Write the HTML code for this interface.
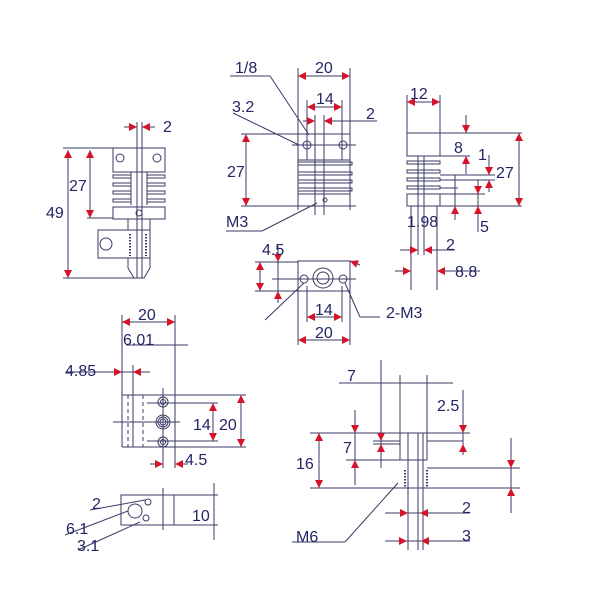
<!DOCTYPE html>
<html><head><meta charset="utf-8"><style>
html,body{margin:0;padding:0;background:#fff}
svg{display:block}
text{font-family:"Liberation Sans",sans-serif;font-size:16px;fill:#232566}
</style></head><body>
<svg width="600" height="600" viewBox="0 0 600 600" xmlns="http://www.w3.org/2000/svg">
<defs>
<marker id="a" viewBox="0 0 10 10" refX="10" refY="5" markerWidth="9" markerHeight="8" orient="auto-start-reverse"><path d="M0,0 L10,5 L0,10 z" fill="#d4142a"/></marker>
</defs>
<g stroke="#3a3a66" stroke-width="1" fill="none">
<!-- Section 1 -->
<line x1="63" y1="148" x2="165" y2="148"/>
<line x1="63" y1="278" x2="142" y2="278"/>
<line x1="87" y1="218" x2="113" y2="218"/>
<line x1="137" y1="122" x2="137" y2="278"/>
<line x1="142" y1="122" x2="142" y2="278"/>
<rect x="113" y="148" width="52" height="24"/>
<circle cx="120" cy="158" r="4"/><circle cx="157" cy="158" r="4"/>
<rect x="113" y="175" width="18" height="3"/><rect x="147" y="175" width="18" height="3"/>
<rect x="113" y="183" width="18" height="3"/><rect x="147" y="183" width="18" height="3"/>
<rect x="113" y="191" width="18" height="3"/><rect x="147" y="191" width="18" height="3"/>
<rect x="113" y="199" width="18" height="3"/><rect x="147" y="199" width="18" height="3"/>
<path d="M131,172 L131,205 M147,172 L147,205"/>
<rect x="113" y="207" width="52" height="12"/>
<circle cx="139" cy="213" r="3"/>
<rect x="98" y="230" width="52" height="28"/>
<circle cx="106" cy="244" r="6"/>
<path d="M130,234 L130,256 M146,234 L146,256" stroke-dasharray="1.5,1.5" stroke-width="2"/>
<path d="M128,258 L128,268 L134,278 L144,278 L150,268 L150,258"/>
<path d="M128,219 L128,230 M150,219 L150,230"/>
<!-- Section 2 front -->
<line x1="298" y1="68" x2="298" y2="210"/>
<line x1="350" y1="68" x2="350" y2="210"/>
<line x1="307" y1="100" x2="307" y2="160"/>
<line x1="342" y1="100" x2="342" y2="160"/>
<line x1="315" y1="115" x2="315" y2="215"/>
<line x1="324" y1="115" x2="324" y2="215"/>
<line x1="332" y1="121" x2="377" y2="121"/>
<line x1="230" y1="76" x2="270" y2="76"/><line x1="270" y1="76" x2="309" y2="135"/>
<line x1="233" y1="113" x2="299" y2="145"/>
<rect x="298" y="134" width="52" height="26"/>
<circle cx="307" cy="145" r="4"/><circle cx="343" cy="145" r="4"/>
<line x1="292" y1="145" x2="356" y2="145"/>
<rect x="298" y="162" width="54" height="3"/><rect x="298" y="172" width="54" height="3"/>
<rect x="298" y="180" width="54" height="3"/><rect x="298" y="188" width="54" height="3"/>
<rect x="298" y="194" width="52" height="12"/>
<circle cx="325" cy="200" r="2"/>
<line x1="241" y1="134" x2="298" y2="134"/>
<line x1="241" y1="206" x2="356" y2="206"/>
<line x1="226" y1="231" x2="262" y2="231"/><line x1="262" y1="231" x2="317" y2="203"/>
<!-- Side view -->
<rect x="407" y="133" width="33" height="23"/>
<rect x="407" y="161" width="33" height="3"/><rect x="407" y="170" width="33" height="3"/>
<rect x="407" y="178" width="33" height="3"/><rect x="407" y="186" width="33" height="3"/>
<rect x="407" y="194" width="33" height="12"/>
<line x1="407" y1="95" x2="407" y2="133"/><line x1="440" y1="95" x2="440" y2="133"/>
<line x1="440" y1="133" x2="522" y2="133"/>
<line x1="440" y1="206" x2="522" y2="206"/>
<line x1="440" y1="156" x2="470" y2="156"/>
<line x1="440" y1="175" x2="495" y2="175"/>
<line x1="440" y1="180" x2="495" y2="180"/>
<line x1="440" y1="188" x2="458" y2="188"/>
<line x1="440" y1="194" x2="485" y2="194"/>
<line x1="411" y1="206" x2="411" y2="290"/><line x1="418" y1="156" x2="418" y2="255"/>
<line x1="424" y1="156" x2="424" y2="255"/><line x1="437" y1="206" x2="437" y2="290"/>
<line x1="466" y1="115" x2="466" y2="130"/><line x1="466" y1="159" x2="466" y2="174"/>
<line x1="489" y1="155" x2="489" y2="175"/>
<line x1="455" y1="175" x2="455" y2="210"/>
<line x1="478" y1="180" x2="478" y2="232"/>
<line x1="428" y1="250" x2="455" y2="250"/>
<line x1="437" y1="271" x2="480" y2="271"/>
<!-- Bottom view -->
<rect x="298" y="261" width="52" height="30"/>
<circle cx="323" cy="278" r="10"/><circle cx="323" cy="278" r="6"/>
<circle cx="304" cy="279" r="4"/><circle cx="343" cy="279" r="4"/>
<line x1="272" y1="279" x2="356" y2="279"/>
<line x1="255" y1="262" x2="298" y2="262"/>
<line x1="255" y1="291" x2="298" y2="291"/>
<line x1="278" y1="258" x2="278" y2="298"/>
<line x1="307" y1="286" x2="307" y2="322"/><line x1="342" y1="286" x2="342" y2="322"/>
<line x1="298" y1="291" x2="298" y2="345"/><line x1="350" y1="291" x2="350" y2="345"/>
<line x1="265" y1="320" x2="304" y2="283"/>
<line x1="380" y1="317" x2="360" y2="317"/><line x1="360" y1="317" x2="345" y2="283"/>
<!-- Section 3 -->
<line x1="122" y1="315" x2="122" y2="447"/>
<line x1="175" y1="315" x2="175" y2="468"/>
<line x1="126" y1="345" x2="188" y2="345"/>
<line x1="67" y1="372" x2="150" y2="372"/>
<line x1="133" y1="365" x2="133" y2="447"/>
<line x1="122" y1="395" x2="246" y2="395"/>
<line x1="122" y1="447" x2="246" y2="447"/>
<line x1="163" y1="388" x2="163" y2="468"/>
<line x1="113" y1="422" x2="180" y2="422"/>
<line x1="147" y1="403" x2="218" y2="403"/>
<line x1="147" y1="441" x2="218" y2="441"/>
<path d="M128,395 L128,447 M143,395 L143,447" stroke-dasharray="4,3"/>
<circle cx="163" cy="402" r="5"/><circle cx="163" cy="402" r="2.5"/>
<circle cx="163" cy="422" r="7"/><circle cx="163" cy="422" r="5"/><circle cx="163" cy="422" r="3"/>
<circle cx="163" cy="442" r="5"/><circle cx="163" cy="442" r="2.5"/>
<rect x="121" y="495" width="53" height="30"/>
<line x1="174" y1="495" x2="218" y2="495"/><line x1="174" y1="525" x2="218" y2="525"/>
<line x1="214" y1="483" x2="214" y2="540"/>
<line x1="163" y1="488" x2="163" y2="530"/>
<circle cx="135" cy="511" r="7"/><circle cx="146" cy="518" r="3"/><circle cx="148" cy="502" r="3"/>
<line x1="90" y1="510" x2="145" y2="500"/>
<line x1="65" y1="535" x2="128" y2="511"/>
<line x1="78" y1="550" x2="140" y2="522"/>
<!-- Section 4 -->
<line x1="339" y1="383" x2="453" y2="383"/>
<line x1="381" y1="360" x2="381" y2="468"/>
<line x1="400" y1="375" x2="400" y2="433"/>
<line x1="427" y1="375" x2="427" y2="433"/>
<line x1="463" y1="390" x2="463" y2="455"/>
<line x1="310" y1="433" x2="470" y2="433"/>
<line x1="310" y1="488" x2="520" y2="488"/>
<line x1="427" y1="468" x2="520" y2="468"/>
<line x1="346" y1="460" x2="400" y2="460"/>
<line x1="355" y1="410" x2="355" y2="485"/>
<line x1="511" y1="438" x2="511" y2="513"/>
<path d="M400,433 L400,460 L427,460 L427,433"/>
<path d="M373,441 L400,441 M373,444 L400,444 M427,441 L463,441"/>
<line x1="408" y1="433" x2="408" y2="550"/>
<line x1="418" y1="433" x2="418" y2="550"/>
<line x1="423" y1="433" x2="423" y2="550"/>
<path d="M405,470 L405,488 M427,470 L427,488" stroke-dasharray="1.5,1.5" stroke-width="2"/>
<line x1="385" y1="513" x2="470" y2="513"/>
<line x1="385" y1="541" x2="470" y2="541"/>
<line x1="292" y1="542" x2="345" y2="542"/><line x1="345" y1="542" x2="398" y2="483"/>
</g>
<g stroke="#3a3a66" stroke-width="1" fill="none" marker-end="url(#a)">
<line x1="68" y1="150" x2="68" y2="278" marker-start="url(#a)"/>
<line x1="90" y1="150" x2="90" y2="218" marker-start="url(#a)"/>
<line x1="124" y1="127" x2="137" y2="127"/><line x1="155" y1="127" x2="142" y2="127"/>
<line x1="298" y1="76" x2="350" y2="76" marker-start="url(#a)"/>
<line x1="307" y1="107" x2="342" y2="107" marker-start="url(#a)"/>
<line x1="303" y1="121" x2="315" y2="121"/><line x1="336" y1="121" x2="324" y2="121"/>
<line x1="246" y1="134" x2="246" y2="206" marker-start="url(#a)"/>
<line x1="407" y1="102" x2="440" y2="102" marker-start="url(#a)"/>
<line x1="519" y1="133" x2="519" y2="206" marker-start="url(#a)"/>
<line x1="466" y1="120" x2="466" y2="133"/><line x1="466" y1="169" x2="466" y2="156"/>
<line x1="489" y1="165" x2="489" y2="175"/><line x1="489" y1="192" x2="489" y2="180"/>
<line x1="478" y1="180" x2="478" y2="194"/>
<line x1="478" y1="220" x2="478" y2="206"/>
<line x1="455" y1="220" x2="455" y2="206"/>
<line x1="400" y1="250" x2="418" y2="250"/><line x1="436" y1="250" x2="424" y2="250"/>
<line x1="395" y1="271" x2="411" y2="271"/><line x1="452" y1="271" x2="437" y2="271"/>
<line x1="260" y1="262" x2="260" y2="291" marker-start="url(#a)"/>
<line x1="278" y1="246" x2="278" y2="262"/><line x1="278" y1="303" x2="278" y2="291"/>
<line x1="307" y1="317" x2="342" y2="317" marker-start="url(#a)"/>
<line x1="298" y1="340" x2="350" y2="340" marker-start="url(#a)"/>
<line x1="360" y1="265" x2="350" y2="261"/>
<line x1="122" y1="322" x2="175" y2="322" marker-start="url(#a)"/>
<line x1="110" y1="372" x2="122" y2="372"/><line x1="145" y1="372" x2="133" y2="372"/>
<line x1="213" y1="403" x2="213" y2="441" marker-start="url(#a)"/>
<line x1="241" y1="395" x2="241" y2="447" marker-start="url(#a)"/>
<line x1="150" y1="464" x2="163" y2="464"/><line x1="188" y1="464" x2="175" y2="464"/>
<line x1="319" y1="433" x2="319" y2="488" marker-start="url(#a)"/>
<line x1="355" y1="420" x2="355" y2="433"/><line x1="355" y1="475" x2="355" y2="460"/>
<line x1="381" y1="428" x2="381" y2="441"/><line x1="381" y1="457" x2="381" y2="444"/>
<line x1="463" y1="420" x2="463" y2="433"/><line x1="463" y1="455" x2="463" y2="444"/>
<line x1="511" y1="455" x2="511" y2="468"/><line x1="511" y1="503" x2="511" y2="488"/>
<line x1="395" y1="513" x2="408" y2="513"/><line x1="432" y1="513" x2="420" y2="513"/>
<line x1="394" y1="541" x2="407" y2="541"/><line x1="434" y1="541" x2="421" y2="541"/>
</g>
<text x="163" y="132">2</text>
<text x="69" y="191">27</text>
<text x="46" y="218">49</text>
<text x="235" y="73">1/8</text>
<text x="315" y="73">20</text>
<text x="316" y="104">14</text>
<text x="366" y="119">2</text>
<text x="232" y="112">3.2</text>
<text x="227" y="177">27</text>
<text x="226" y="227">M3</text>
<text x="410" y="99">12</text>
<text x="454" y="153">8</text>
<text x="478" y="160">1</text>
<text x="496" y="178">27</text>
<text x="407" y="227">1.98</text>
<text x="480" y="232">5</text>
<text x="446" y="250">2</text>
<text x="455" y="277">8.8</text>
<text x="262" y="255">4.5</text>
<text x="315" y="315">14</text>
<text x="315" y="338">20</text>
<text x="386" y="318">2-M3</text>
<text x="138" y="320">20</text>
<text x="123" y="345">6.01</text>
<text x="65" y="376">4.85</text>
<text x="193" y="430">14</text>
<text x="219" y="430">20</text>
<text x="185" y="465">4.5</text>
<text x="92" y="509">2</text>
<text x="66" y="534">6.1</text>
<text x="77" y="551">3.1</text>
<text x="192" y="521">10</text>
<text x="347" y="381">7</text>
<text x="437" y="411">2.5</text>
<text x="343" y="453">7</text>
<text x="296" y="469">16</text>
<text x="462" y="513">2</text>
<text x="462" y="541">3</text>
<text x="296" y="542">M6</text>
</svg>
</body></html>
